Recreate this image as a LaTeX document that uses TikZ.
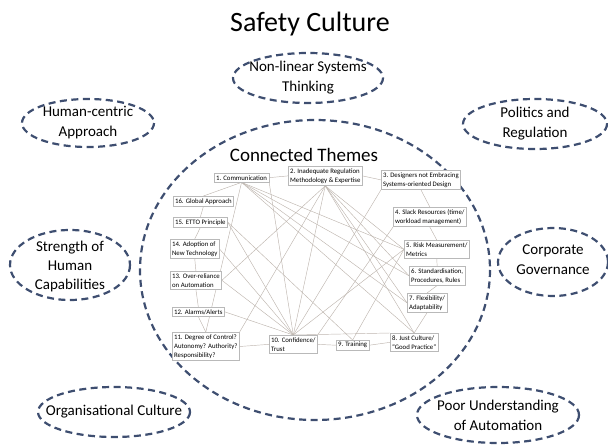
\documentclass[tikz,border=0pt]{standalone}
\usepackage{fontspec}
\setmainfont{Carlito}
\usetikzlibrary{backgrounds}
\definecolor{ringblue}{RGB}{62,78,112}
\definecolor{boxgray}{RGB}{185,185,185}
\definecolor{linkgray}{RGB}{190,182,175}
\tikzset{
  ring/.style={draw=ringblue, line width=2.2pt, dash pattern=on 7pt off 4.5pt},
  theme/.style={draw=boxgray, fill=white, line width=0.6pt, inner xsep=1.8pt, inner ysep=2pt,
    align=left, anchor=north west, font=\fontsize{6.8}{9.3}\selectfont},
  link/.style={draw=linkgray, line width=0.45pt},
  bigtext/.style={font=\fontsize{15}{20}\selectfont, align=center}
}
\begin{document}
\begin{tikzpicture}[x=1pt,y=-1pt]
\useasboundingbox (0,0) rectangle (608,447);
\node[font=\fontsize{28}{32}\selectfont] (title) at (310,24) {Safety Culture};

\draw[ring] (308,78) ellipse [x radius=75, y radius=25];
\node[bigtext] (nonlin) at (308,78) {Non-linear Systems\\Thinking};
\draw[ring] (88,123) ellipse [x radius=66, y radius=24];
\node[bigtext] (human) at (88,123) {Human-centric\\Approach};
\draw[ring] (535,124) ellipse [x radius=72, y radius=25];
\node[bigtext] (politics) at (535,124) {Politics and\\Regulation};
\draw[ring] (70,265) ellipse [x radius=60, y radius=35];
\node[bigtext, font=\fontsize{15}{19}\selectfont] (strength) at (70,266) {Strength of\\Human\\Capabilities};
\draw[ring] (553,262) ellipse [x radius=55, y radius=34];
\node[bigtext] (corporate) at (553,260) {Corporate\\Governance};
\draw[ring] (114,412) ellipse [x radius=76, y radius=25];
\node[bigtext] (orgcult) at (114,412) {Organisational Culture};
\draw[ring] (498,415) ellipse [x radius=81, y radius=28];
\node[bigtext] (poor) at (498,415) {Poor Understanding\\of Automation};

\draw[ring] (315,270) ellipse [x radius=175, y radius=150];
\node[font=\fontsize{19}{22}\selectfont] (conn) at (304,155) {Connected Themes};

\node[theme] (t1) at (214,173) {1. Communication};
\node[theme] (t2) at (288,166) {2. Inadequate Regulation\\Methodology \& Expertise};
\node[theme] (t3) at (381,170) {3. Designers not Embracing\\Systems-oriented Design};
\node[theme] (t4) at (393,207) {4. Slack Resources (time/\\workload management)};
\node[theme] (t5) at (404,240) {5. Risk Measurement/\\Metrics};
\node[theme] (t6) at (409,266) {6. Standardisation,\\Procedures, Rules};
\node[theme] (t7) at (407,293) {7. Flexibility/\\Adaptability};
\node[theme] (t8) at (390,333) {8. Just Culture/\\“Good Practice”};
\node[theme] (t9) at (336,340) {9. Training};
\node[theme] (t10) at (269,335) {10. Confidence/\\Trust};
\node[theme] (t11) at (172,332) {11. Degree of Control?\\Autonomy? Authority?\\Responsibility?};
\node[theme] (t12) at (172,307) {12. Alarms/Alerts};
\node[theme] (t13) at (170,271) {13. Over-reliance\\on Automation};
\node[theme] (t14) at (170,239) {14. Adoption of\\New Technology};
\node[theme] (t15) at (173,217) {15. ETTO Principle};
\node[theme] (t16) at (173,196) {16. Global Approach};

\begin{scope}[on background layer]
\draw[link] (t1.east) -- (t2.west);
\draw[link] (t2.east) -- (t3.west);
\draw[link] (t3.south) -- (t4.north);
\draw[link] (t4.south) -- (t5.north);
\draw[link] (t5.south) -- (t6.north);
\draw[link] (t6.south) -- (t7.north);
\draw[link] (t7.south) -- (t8.north);
\draw[link] (t8.west) -- (t9.east);
\draw[link] (t9.west) -- (t10.east);
\draw[link] (t10.west) -- (t11.east);
\draw[link] (t11.north) -- (t12.south);
\draw[link] (t12.north) -- (t13.south);
\draw[link] (t13.north) -- (t14.south);
\draw[link] (t14.north) -- (t15.south);
\draw[link] (t15.north) -- (t16.south);
\draw[link] (t16.north) -- (t1.south);
\draw[link] (t1.south) -- (t5.west);
\draw[link] (t1.south) -- (t6.west);
\draw[link] (t1.south) -- (t7.west);
\draw[link] (t1.south) -- (t8.north);
\draw[link] (t1.south east) -- (t10.north);
\draw[link] (t1.south) -- (t11.north);
\draw[link] (t2.south) -- (t5.west);
\draw[link] (t2.south) -- (t6.west);
\draw[link] (t2.south) -- (t7.west);
\draw[link] (t2.south) -- (t8.north);
\draw[link] (t2.south) -- (t10.north);
\draw[link] (t2.south) -- (t11.north east);
\draw[link] (t2.south) -- (t13.east);
\draw[link] (t3.south west) -- (t10.north);
\draw[link] (t4.south west) -- (t10.north east);
\draw[link] (t5.west) -- (t10.north);
\draw[link] (t5.west) -- (t9.north);
\draw[link] (t12.east) -- (t10.north);
\draw[link] (t13.east) -- (t10.north);
\draw[link] (t14.east) -- (t10.north);
\draw[link] (t15.east) -- (t10.north);
\draw[link] (t15.east) -- (t9.north);
\draw[link] (t10.north) -- (t8.north west);
\end{scope}
\end{tikzpicture}
\end{document}
